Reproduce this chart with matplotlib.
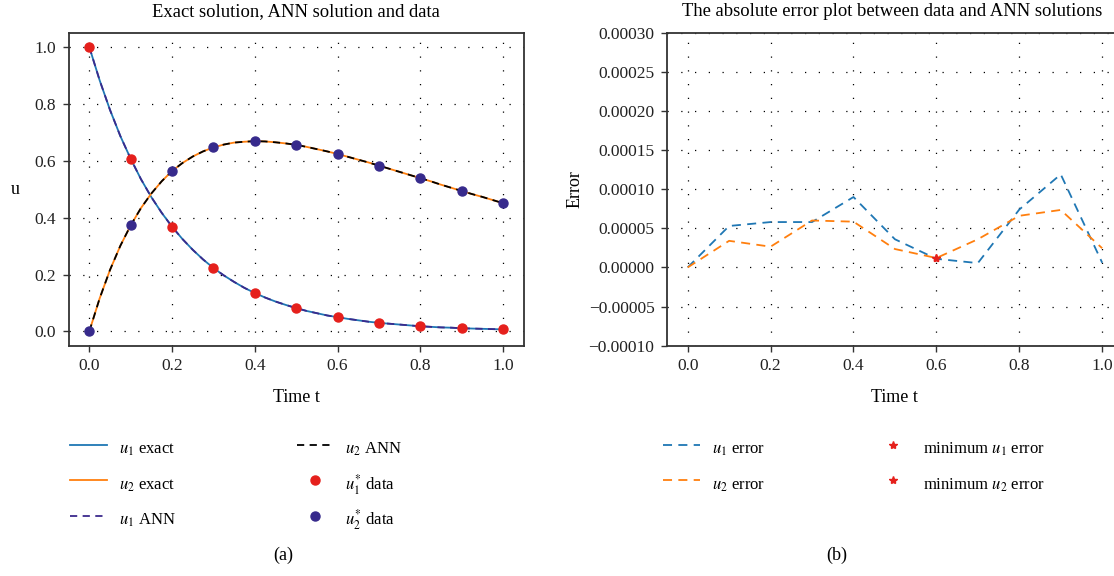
import matplotlib
matplotlib.use("Agg")
import matplotlib.pyplot as plt

plt.rcParams["font.family"] = ["Liberation Serif", "DejaVu Serif"]
plt.rcParams["mathtext.fontset"] = "stix"

# curves (t step 0.025)
t_fine = [i * 0.025 for i in range(41)]
u1_exact = [1.000, 0.883, 0.779, 0.687, 0.607, 0.535, 0.472, 0.417, 0.368, 0.325,
            0.287, 0.253, 0.223, 0.197, 0.174, 0.153, 0.135, 0.119, 0.105, 0.093,
            0.082, 0.072, 0.064, 0.056, 0.050, 0.044, 0.039, 0.034, 0.030, 0.027,
            0.024, 0.021, 0.018, 0.016, 0.014, 0.013, 0.011, 0.010, 0.009, 0.008,
            0.007]
u2_exact = [0.000, 0.116, 0.216, 0.301, 0.373, 0.434, 0.485, 0.528, 0.564, 0.592,
            0.615, 0.633, 0.647, 0.657, 0.664, 0.667, 0.669, 0.668, 0.665, 0.661,
            0.656, 0.649, 0.641, 0.633, 0.624, 0.614, 0.604, 0.594, 0.583, 0.572,
            0.561, 0.550, 0.539, 0.528, 0.516, 0.505, 0.494, 0.483, 0.473, 0.462,
            0.451]
u1_ann = u1_exact
u2_ann = u2_exact

t_data = [0.0, 0.1, 0.2, 0.3, 0.4, 0.5, 0.6, 0.7, 0.8, 0.9, 1.0]
u1_data = [1.0, 0.607, 0.368, 0.223, 0.135, 0.082, 0.050, 0.030, 0.018, 0.011, 0.007]
u2_data = [0.0, 0.373, 0.564, 0.647, 0.669, 0.656, 0.624, 0.583, 0.539, 0.494, 0.451]

# absolute errors (right panel)
u1_err = [0.0, 5.3e-5, 5.8e-5, 5.8e-5, 9.0e-5, 3.6e-5, 1.1e-5, 0.55e-5, 7.4e-5, 11.9e-5, 0.6e-5]
u2_err = [0.0, 3.4e-5, 2.65e-5, 6.0e-5, 5.85e-5, 2.35e-5, 1.2e-5, 3.6e-5, 6.6e-5, 7.35e-5, 2.45e-5]
min_t = 0.6
min_u1 = 1.15e-5
min_u2 = 1.15e-5

fig = plt.figure(figsize=(11.14, 5.76), dpi=100)
ax1 = fig.add_axes([0.0616, 0.400, 0.4085, 0.543])
ax2 = fig.add_axes([0.5987, 0.400, 0.4093, 0.543])

grid_kw = dict(color="black", linestyle=(0, (1, 10)), linewidth=0.9)
leg_kw = dict(loc="upper left", ncol=2, frameon=False, fontsize=12,
              handlelength=2.2, handleheight=2.0, labelspacing=0.59,
              handletextpad=0.7, borderpad=0.4)

ax1.plot(t_fine, u1_exact, color="#1f77b4", lw=1.3, label="$u_1$ exact")
ax1.plot(t_fine, u2_exact, color="#ff7f0e", lw=1.3, label="$u_2$ exact")
ax1.plot(t_fine, u1_ann, color="#3b2a8c", lw=1.3, ls=(0, (4, 3)), label="$u_1$ ANN")
ax1.plot(t_fine, u2_ann, color="black", lw=1.3, ls=(0, (4, 3)), label="$u_2$ ANN")
ax1.plot(t_data, u1_data, "o", color="#e5201c", ms=6.5, label="$u_1^{*}$ data")
ax1.plot(t_data, u2_data, "o", color="#372a8c", ms=6.5, label="$u_2^{*}$ data")
ax1.set_xlim(-0.05, 1.05)
ax1.set_ylim(-0.05, 1.05)
ax1.set_xticks(t_data[::2])
ax1.set_yticks([0.0, 0.2, 0.4, 0.6, 0.8, 1.0])
ax1.grid(True, **grid_kw)
ax1.set_title("Exact solution, ANN solution and data", fontsize=13.4, pad=12)
ax1.set_xlabel("Time t", fontsize=13, labelpad=11)
ax1.set_ylabel("u", fontsize=13, rotation=0, labelpad=14, va="center")
ax1.legend(bbox_to_anchor=(-0.029, -0.24), columnspacing=7.3, **leg_kw)

ax2.plot(t_data, u1_err, color="#1f77b4", lw=1.3, ls=(0, (5, 3.5)), label="$u_1$ error")
ax2.plot(t_data, u2_err, color="#ff7f0e", lw=1.3, ls=(0, (5, 3.5)), label="$u_2$ error")
ax2.plot([min_t], [min_u1], "*", color="#e5201c", ms=6, label="minimum $u_1$ error")
ax2.plot([min_t], [min_u2], "*", color="#e5201c", ms=6, label="minimum $u_2$ error")
ax2.set_xlim(-0.05, 1.05)
ax2.set_ylim(-0.0001, 0.0003)
ax2.set_xticks(t_data[::2])
ax2.set_yticks([-0.0001, -0.00005, 0.0, 0.00005, 0.0001, 0.00015, 0.0002, 0.00025, 0.0003])
ax2.set_yticklabels(["\u22120.00010", "\u22120.00005", "0.00000", "0.00005", "0.00010",
                     "0.00015", "0.00020", "0.00025", "0.00030"])
ax2.grid(True, **grid_kw)
ax2.set_title("The absolute error plot between data and ANN solutions", fontsize=13.4,
              pad=12, x=0.493)
ax2.set_xlabel("Time t", fontsize=13, labelpad=11)
ax2.set_ylabel("Error", fontsize=13, labelpad=4)
ax2.legend(bbox_to_anchor=(-0.041, -0.24), columnspacing=6.6, **leg_kw)

for ax in (ax1, ax2):
    for s in ax.spines.values():
        s.set_color("#333333")
        s.set_linewidth(1.3)
    ax.tick_params(direction="out", length=4, width=1, color="#333333",
                   labelsize=12.5, labelcolor="#222222", pad=5)

fig.text(0.254, 0.036, "(a)", fontsize=13, ha="center", va="center")
fig.text(0.751, 0.036, "(b)", fontsize=13, ha="center", va="center")

fig.savefig("out.png", dpi=100)
